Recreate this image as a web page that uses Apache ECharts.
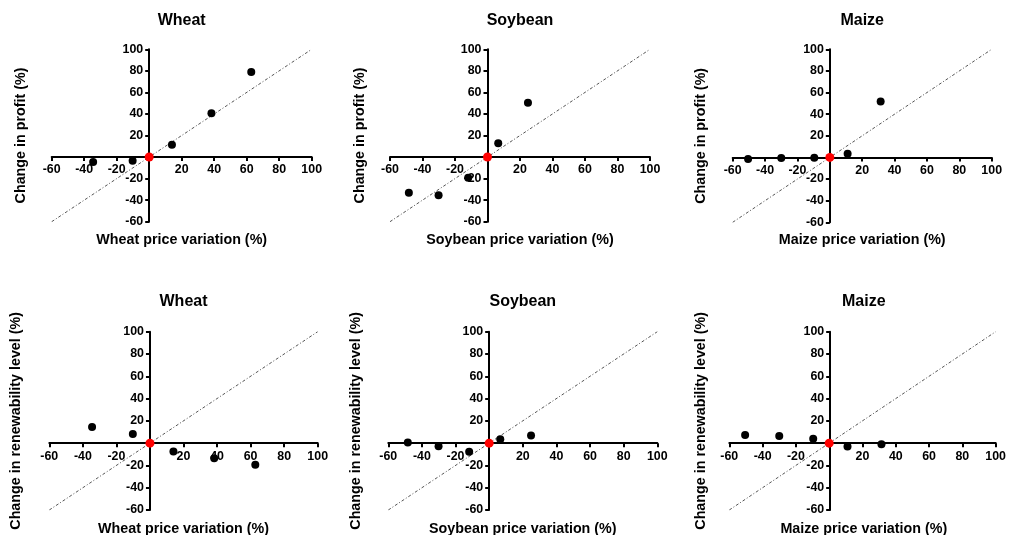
<!DOCTYPE html>
<html>
<head>
<meta charset="utf-8">
<title>Price variation vs profit and renewability</title>
<script src="https://cdn.jsdelivr.net/npm/echarts@6/dist/echarts.min.js"></script>
<style>
  html, body { margin: 0; padding: 0; background: #ffffff; }
  #chart { width: 1009px; height: 535px; }
</style>
</head>
<body>
<div id="chart"></div>
<script>
// Price variation (%) of each crop scenario (x values, shared by both rows)
const wheatPrice   = [-34.5, -10.2, 14.0, 38.3, 62.8];
const soybeanPrice = [-48.4, -30.1, -11.9, 6.6, 24.9];
const maizePrice   = [-50.5, -30.0, -9.6, 11.0, 31.4];

// Change in profit (%)
const wheatProfit   = [-4.6, -3.4, 11.5, 40.7, 78.9];
const soybeanProfit = [-33.2, -35.4, -19.3, 12.7, 50.3];
const maizeProfit   = [-1.5, -0.6, -0.3, 3.4, 51.7];

// Change in renewability level (%)
const wheatRenew   = [14.4, 8.1, -7.5, -13.5, -19.5];
const soybeanRenew = [0.6, -2.7, -7.8, 3.6, 6.9];
const maizeRenew   = [7.2, 6.3, 3.9, -3.0, -0.9];

// Reference point and 1:1 line extent
const origin = [0, 0];
const identityExtent = [-60, 100];

// Axis ticks
const axisMin = -60, axisMax = 100, axisStep = 20;

const crops = ['Wheat', 'Soybean', 'Maize'];
const priceData = [wheatPrice, soybeanPrice, maizePrice];
const profitData = [wheatProfit, soybeanProfit, maizeProfit];
const renewData = [wheatRenew, soybeanRenew, maizeRenew];

const FONT = '"Liberation Sans", Arial, Helvetica, sans-serif';

// Panel frames (plot area in px)
const frames = [
  { left: 51.7, top: 49.3, width: 260, height: 172.4, titleY: 21, xNameY: 240.5, yNameX: 21 },
  { left: 390, top: 49.3, width: 260, height: 172.4, titleY: 21, xNameY: 240.5, yNameX: 360.5 },
  { left: 732.7, top: 49.3, width: 259, height: 173.0, titleY: 21, xNameY: 240.5, yNameX: 701.5 },
  { left: 49.3, top: 331.7, width: 268.4, height: 178.3, titleY: 301.5, xNameY: 529.5, yNameX: 16 },
  { left: 388.3, top: 331.7, width: 269, height: 178.3, titleY: 301.5, xNameY: 529.5, yNameX: 356 },
  { left: 729.3, top: 331.7, width: 269, height: 178.3, titleY: 301.5, xNameY: 529.5, yNameX: 701 }
];

const panels = [];
for (let row = 0; row < 2; row++) {
  for (let c = 0; c < 3; c++) {
    panels.push({
      title: crops[c],
      xName: crops[c] + ' price variation (%)',
      yName: row === 0 ? 'Change in profit (%)' : 'Change in renewability level (%)',
      xs: priceData[c],
      ys: row === 0 ? profitData[c] : renewData[c]
    });
  }
}

const axisLabel = {
  fontFamily: FONT, fontSize: 12.4, fontWeight: 'bold', color: '#000',
  formatter: v => (v === 0 ? '' : String(v))
};

// share of the axis span lying below zero, used to move each axis onto the origin
const zeroFrac = (0 - axisMin) / (axisMax - axisMin);

const grid = [], xAxis = [], yAxis = [], series = [], graphic = [];

panels.forEach((p, i) => {
  const f = frames[i];
  grid.push({ left: f.left, top: f.top, width: f.width, height: f.height, containLabel: false });

  xAxis.push({
    gridIndex: i, type: 'value', min: axisMin, max: axisMax, interval: axisStep,
    position: 'bottom', offset: -f.height * zeroFrac,
    axisLine: { onZero: false, lineStyle: { color: '#000', width: 2 } },
    axisTick: { show: true, inside: false, length: 4, lineStyle: { color: '#000', width: 2 } },
    axisLabel: Object.assign({ margin: 7, showMinLabel: true, showMaxLabel: true }, axisLabel),
    splitLine: { show: false }, z: 2
  });
  yAxis.push({
    gridIndex: i, type: 'value', min: axisMin, max: axisMax, interval: axisStep,
    position: 'left', offset: -f.width * zeroFrac,
    axisLine: { onZero: false, lineStyle: { color: '#000', width: 2 } },
    axisTick: { show: true, inside: false, length: 4, lineStyle: { color: '#000', width: 2 } },
    axisLabel: Object.assign({ margin: 6, showMinLabel: true, showMaxLabel: true }, axisLabel),
    splitLine: { show: false }, z: 2
  });

  // 1:1 reference line
  series.push({
    type: 'line', xAxisIndex: i, yAxisIndex: i,
    data: identityExtent.map(v => [v, v]),
    symbol: 'none', silent: true, z: 1,
    lineStyle: { color: '#555', width: 1, type: [3, 2, 1, 2] }
  });
  // scenario points
  series.push({
    type: 'scatter', xAxisIndex: i, yAxisIndex: i,
    data: p.xs.map((x, k) => [x, p.ys[k]]),
    symbol: 'circle', symbolSize: 8, z: 5,
    itemStyle: { color: '#000', opacity: 1 }
  });
  // baseline point
  series.push({
    type: 'scatter', xAxisIndex: i, yAxisIndex: i,
    data: [origin],
    symbol: 'circle', symbolSize: 9, z: 6,
    itemStyle: { color: '#ff0000', opacity: 1 }
  });

  const cx = f.left + f.width / 2;
  graphic.push({
    type: 'text', x: cx, y: f.titleY, silent: true,
    style: { text: p.title, font: 'bold 16px ' + FONT, fill: '#000', align: 'center', verticalAlign: 'middle' }
  });
  graphic.push({
    type: 'text', x: cx, y: f.xNameY, silent: true,
    style: { text: p.xName, font: 'bold 14.3px ' + FONT, fill: '#000', align: 'center', verticalAlign: 'middle' }
  });
  graphic.push({
    type: 'text', x: f.yNameX, y: f.top + f.height / 2, rotation: Math.PI / 2, silent: true,
    style: { text: p.yName, font: 'bold 14.3px ' + FONT, fill: '#000', align: 'center', verticalAlign: 'middle' }
  });
});

const chart = echarts.init(document.getElementById('chart'), null, { renderer: 'canvas' });
chart.setOption({
  animation: false,
  backgroundColor: '#ffffff',
  grid, xAxis, yAxis, series, graphic
});
</script>
</body>
</html>
